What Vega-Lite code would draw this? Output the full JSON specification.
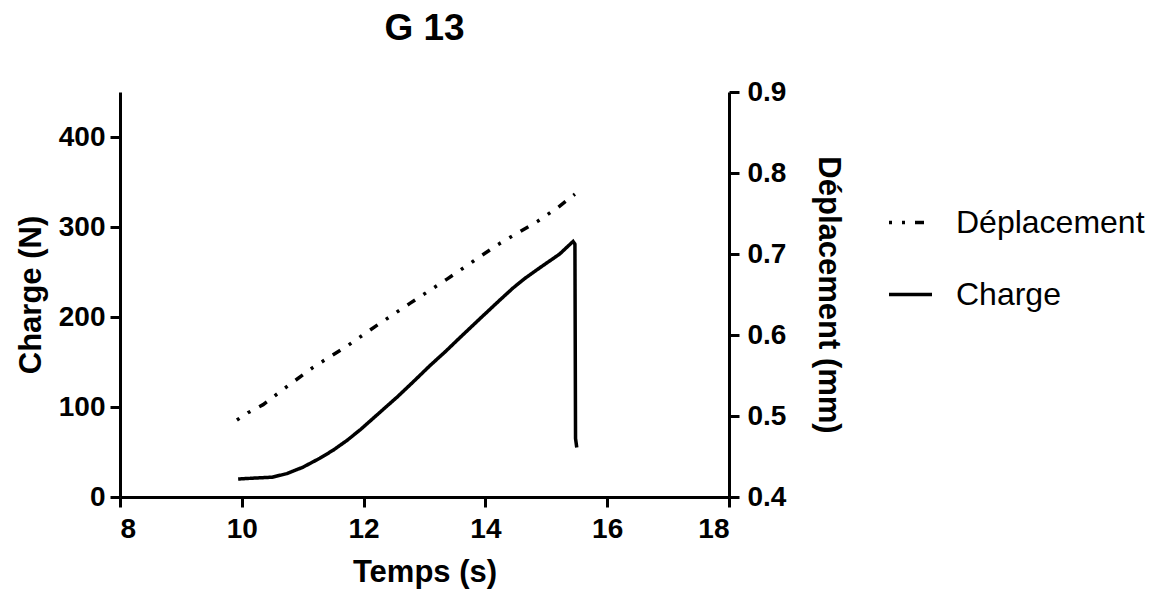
{
  "$schema": "https://vega.github.io/schema/vega-lite/v6.json",
  "width": 609,
  "height": 405,
  "autosize": {"type": "none"},
  "padding": {"left": 120, "top": 92, "right": 438, "bottom": 95},
  "background": "white",
  "title": {"text": "G 13", "font": "Liberation Sans", "fontSize": 37, "fontWeight": "bold", "color": "black", "anchor": "middle", "offset": 30},
  "config": {
    "view": {"stroke": null},
    "axis": {
      "domainColor": "black", "domainWidth": 3, "tickColor": "black", "tickWidth": 3, "tickSize": 10,
      "labelFont": "Liberation Sans", "labelFontWeight": "bold", "labelFontSize": 28, "labelColor": "black",
      "titleFont": "Liberation Sans", "titleFontWeight": "bold", "titleFontSize": 31, "titleColor": "black",
      "grid": false
    }
  },
  "datasets": {
    "charge": [
      {"t": 9.94, "serie": "Charge", "charge": 20},
      {"t": 10.2, "serie": "Charge", "charge": 21},
      {"t": 10.5, "serie": "Charge", "charge": 22},
      {"t": 10.74, "serie": "Charge", "charge": 26},
      {"t": 11.0, "serie": "Charge", "charge": 33},
      {"t": 11.28, "serie": "Charge", "charge": 43},
      {"t": 11.5, "serie": "Charge", "charge": 52},
      {"t": 11.73, "serie": "Charge", "charge": 63},
      {"t": 11.95, "serie": "Charge", "charge": 75},
      {"t": 12.15, "serie": "Charge", "charge": 87},
      {"t": 12.35, "serie": "Charge", "charge": 99},
      {"t": 12.55, "serie": "Charge", "charge": 111},
      {"t": 12.8, "serie": "Charge", "charge": 127},
      {"t": 13.09, "serie": "Charge", "charge": 146},
      {"t": 13.35, "serie": "Charge", "charge": 162},
      {"t": 13.58, "serie": "Charge", "charge": 177},
      {"t": 13.94, "serie": "Charge", "charge": 200},
      {"t": 14.24, "serie": "Charge", "charge": 219},
      {"t": 14.45, "serie": "Charge", "charge": 232},
      {"t": 14.65, "serie": "Charge", "charge": 243},
      {"t": 14.9, "serie": "Charge", "charge": 255},
      {"t": 15.22, "serie": "Charge", "charge": 270},
      {"t": 15.44, "serie": "Charge", "charge": 284},
      {"t": 15.47, "serie": "Charge", "charge": 281},
      {"t": 15.48, "serie": "Charge", "charge": 65},
      {"t": 15.5, "serie": "Charge", "charge": 55}
    ],
    "depl": [
      {"t": 9.92, "serie": "Déplacement", "depl": 0.495},
      {"t": 10.1, "serie": "Déplacement", "depl": 0.504},
      {"t": 10.35, "serie": "Déplacement", "depl": 0.514},
      {"t": 10.7, "serie": "Déplacement", "depl": 0.534},
      {"t": 11.17, "serie": "Déplacement", "depl": 0.560},
      {"t": 11.74, "serie": "Déplacement", "depl": 0.587},
      {"t": 12.2, "serie": "Déplacement", "depl": 0.611},
      {"t": 12.76, "serie": "Déplacement", "depl": 0.639},
      {"t": 13.37, "serie": "Déplacement", "depl": 0.669},
      {"t": 13.8, "serie": "Déplacement", "depl": 0.691},
      {"t": 14.19, "serie": "Déplacement", "depl": 0.711},
      {"t": 14.85, "serie": "Déplacement", "depl": 0.740},
      {"t": 15.2, "serie": "Déplacement", "depl": 0.758},
      {"t": 15.47, "serie": "Déplacement", "depl": 0.774}
    ]
  },
  "layer": [
    {
      "data": {"name": "charge"},
      "mark": {"type": "line", "color": "black", "strokeWidth": 3.5, "strokeCap": "butt"},
      "encoding": {
        "x": {"field": "t", "type": "quantitative", "scale": {"domain": [8, 18], "nice": false},
          "axis": {"values": [8, 10, 12, 14, 16, 18], "format": "d", "title": "Temps (s)", "labelPadding": 8, "titlePadding": 14}},
        "y": {"field": "charge", "type": "quantitative", "scale": {"domain": [0, 450], "nice": false},
          "axis": {"orient": "left", "values": [0, 100, 200, 300, 400], "title": "Charge (N)", "labelPadding": 5, "titlePadding": 11}},
        "strokeDash": {"field": "serie", "type": "nominal",
          "scale": {"domain": ["Déplacement", "Charge"], "range": [[3, 10, 3, 10, 9, 10], [1, 0]]},
          "legend": {"orient": "none", "legendX": 767, "legendY": 107, "title": null,
            "symbolType": "stroke", "symbolSize": 1849, "symbolStrokeWidth": 3.5, "symbolStrokeColor": "black",
            "labelFont": "Liberation Sans", "labelFontSize": 32, "labelColor": "black", "labelLimit": 400, "rowPadding": 32, "labelOffset": 22}}
      }
    },
    {
      "data": {"name": "depl"},
      "mark": {"type": "line", "color": "black", "strokeWidth": 3.5, "strokeCap": "butt"},
      "encoding": {
        "x": {"field": "t", "type": "quantitative"},
        "y": {"field": "depl", "type": "quantitative", "scale": {"domain": [0.4, 0.9], "nice": false},
          "axis": {"orient": "right", "values": [0.4, 0.5, 0.6, 0.7, 0.8, 0.9], "format": ".1f", "title": "Déplacement (mm)", "labelPadding": 8, "titlePadding": 26}},
        "strokeDash": {"field": "serie", "type": "nominal"}
      }
    }
  ],
  "resolve": {"scale": {"y": "independent"}}
}
